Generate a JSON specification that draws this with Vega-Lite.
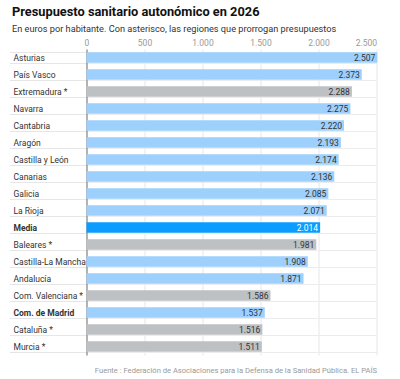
{
  "$schema": "https://vega.github.io/schema/vega-lite/v6.json",
  "autosize": {"type": "none"},
  "width": 290,
  "height": 306,
  "padding": {"left": 86.5, "top": 49, "right": 23.5, "bottom": 24},
  "background": "white",
  "title": {
    "text": "Presupuesto sanitario autonómico en 2026",
    "subtitle": "En euros por habitante. Con asterisco, las regiones que prorrogan presupuestos",
    "anchor": "start",
    "frame": "group",
    "dx": -74.5,
    "offset": 4,
    "font": "Roboto",
    "fontSize": 12.8,
    "fontWeight": "bold",
    "color": "#111",
    "subtitleFont": "Roboto",
    "subtitleFontSize": 9.2,
    "subtitleColor": "#333",
    "subtitlePadding": 6
  },
  "data": {
    "values": [
      {"region": "Asturias", "valor": 2507, "tipo": "normal"},
      {"region": "País Vasco", "valor": 2373, "tipo": "normal"},
      {"region": "Extremadura *", "valor": 2288, "tipo": "prorroga"},
      {"region": "Navarra", "valor": 2275, "tipo": "normal"},
      {"region": "Cantabria", "valor": 2220, "tipo": "normal"},
      {"region": "Aragón", "valor": 2193, "tipo": "normal"},
      {"region": "Castilla y León", "valor": 2174, "tipo": "normal"},
      {"region": "Canarias", "valor": 2136, "tipo": "normal"},
      {"region": "Galicia", "valor": 2085, "tipo": "normal"},
      {"region": "La Rioja", "valor": 2071, "tipo": "normal"},
      {"region": "Media", "valor": 2014, "tipo": "media"},
      {"region": "Baleares *", "valor": 1981, "tipo": "prorroga"},
      {"region": "Castilla-La Mancha", "valor": 1908, "tipo": "normal"},
      {"region": "Andalucía", "valor": 1871, "tipo": "normal"},
      {"region": "Com. Valenciana *", "valor": 1586, "tipo": "prorroga"},
      {"region": "Com. de Madrid", "valor": 1537, "tipo": "normal"},
      {"region": "Cataluña *", "valor": 1516, "tipo": "prorroga"},
      {"region": "Murcia *", "valor": 1511, "tipo": "prorroga"}
    ]
  },
  "encoding": {
    "y": {
      "field": "region",
      "type": "nominal",
      "sort": null,
      "scale": {"paddingInner": 0.38, "paddingOuter": 0.19},
      "axis": {
        "title": null,
        "orient": "left",
        "domain": true,
        "domainColor": "#888",
        "domainWidth": 1.2,
        "ticks": true,
        "tickBand": "extent",
        "tickSize": 77,
        "tickColor": "#e6e6e6",
        "tickWidth": 1,
        "grid": true,
        "gridColor": "#ececec",
        "labelAlign": "left",
        "labelPadding": -3.5,
        "labelFont": "Roboto",
        "labelFontSize": 8.5,
        "labelColor": "#333",
        "labelFontWeight": {
          "condition": {"test": "datum.value === 'Media' || datum.value === 'Com. de Madrid'", "value": "bold"},
          "value": "normal"
        }
      }
    }
  },
  "layer": [
    {
      "mark": {"type": "bar", "clip": false},
      "encoding": {
        "x": {
          "field": "valor",
          "type": "quantitative",
          "scale": {"domain": [0, 2500], "nice": false, "clamp": false},
          "axis": {
            "orient": "top",
            "title": null,
            "values": [0, 500, 1000, 1500, 2000, 2500],
            "format": ",d",
            "domain": false,
            "ticks": false,
            "grid": true,
            "gridColor": "#e6e6e6",
            "labelFont": "Roboto",
            "labelFontSize": 8.5,
            "labelColor": "#999",
            "labelPadding": 2,
            "labelAlign": {"condition": {"test": "datum.value >= 2500", "value": "right"}, "value": "center"}
          }
        },
        "color": {
          "field": "tipo",
          "type": "nominal",
          "scale": {"domain": ["normal", "prorroga", "media"], "range": ["#9dd0fd", "#bec1c4", "#0a9dff"]},
          "legend": null
        }
      }
    },
    {
      "mark": {"type": "text", "align": "right", "baseline": "middle", "dx": -2, "font": "Roboto", "fontSize": 8.5},
      "encoding": {
        "x": {
          "field": "valor",
          "type": "quantitative",
          "axis": {
            "orient": "bottom",
            "title": "Fuente : Federación de Asociaciones para la Defensa de la Sanidad Pública. EL PAÍS",
            "titleAnchor": "end",
            "titleFont": "Roboto",
            "titleFontSize": 7.6,
            "titleFontWeight": "normal",
            "titleColor": "#999",
            "titlePadding": 11,
            "labels": false,
            "ticks": false,
            "domain": false,
            "grid": false
          }
        },
        "text": {"field": "valor", "type": "quantitative", "format": ",d"},
        "color": {
          "condition": {"test": "datum.tipo === 'media'", "value": "white"},
          "value": "#333"
        }
      }
    }
  ],
  "resolve": {"axis": {"x": "independent"}},
  "config": {
    "view": {"stroke": null},
    "locale": {"number": {"decimal": ",", "thousands": ".", "grouping": [3], "currency": ["", " €"]}}
  }
}
